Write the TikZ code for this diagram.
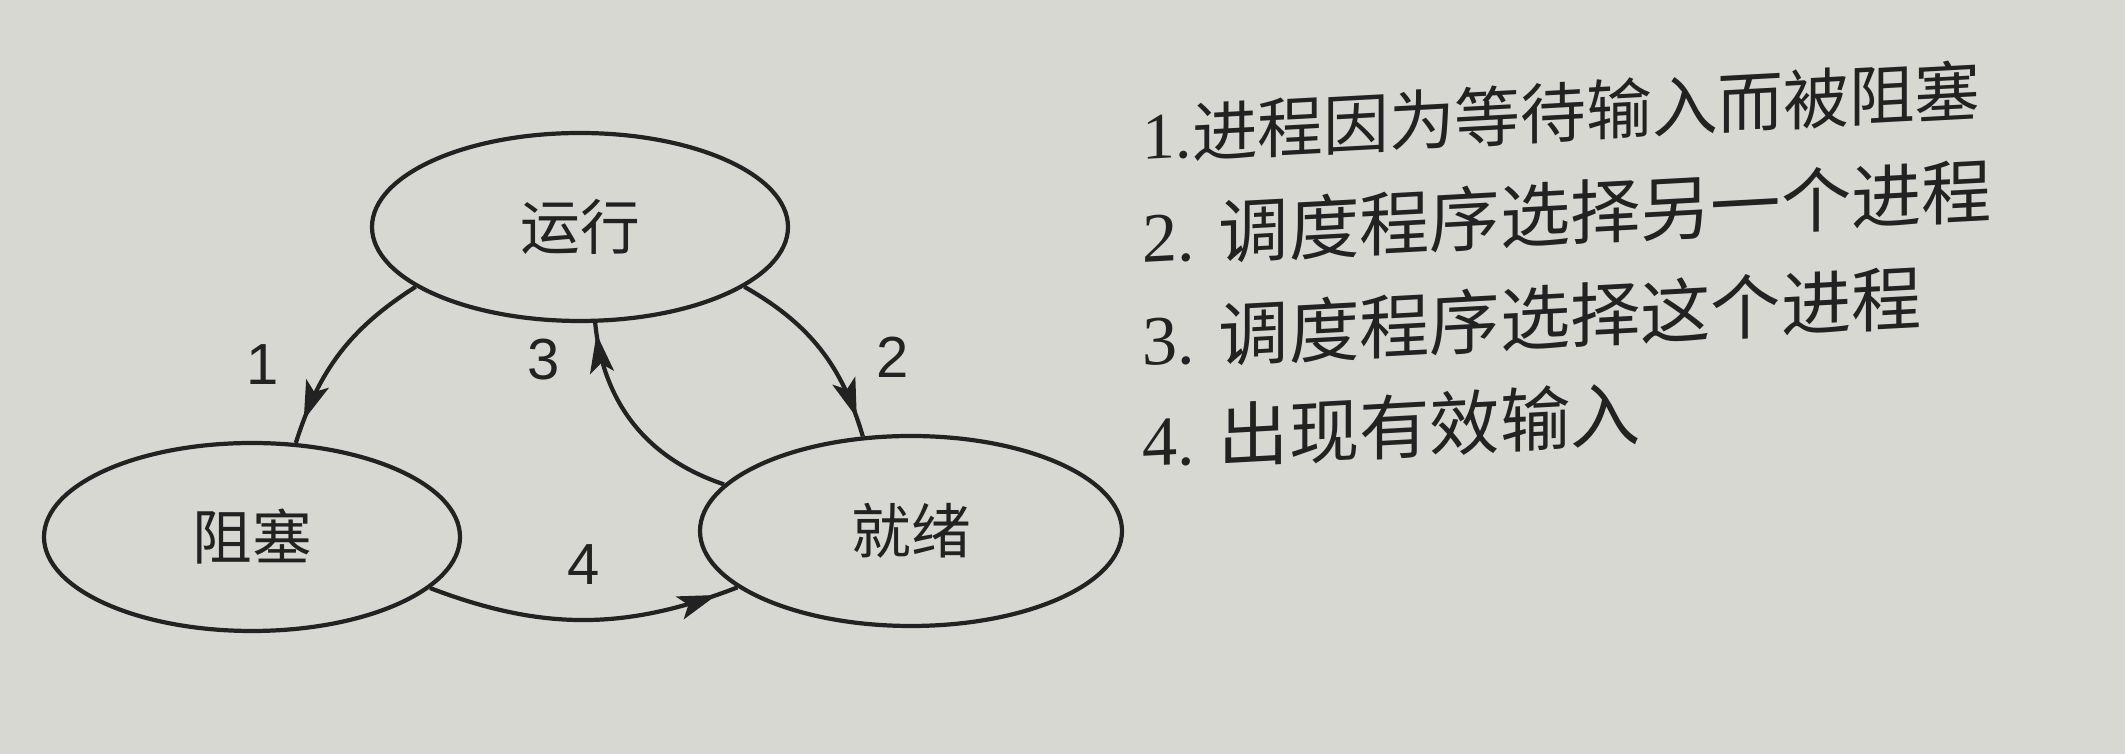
\documentclass[tikz,border=0pt]{standalone}
\usepackage{fontspec}
\setmainfont{Liberation Serif}
\newfontfamily\cjk{Noto Sans CJK SC}
\newfontfamily\labelfont{Liberation Sans}
\usetikzlibrary{shapes.geometric,arrows.meta,positioning,decorations.markings}
\definecolor{paper}{RGB}{216,216,211}
\definecolor{ink}{RGB}{34,34,34}

\tikzset{
  state/.style={ellipse, draw=ink, line width=1.2pt, minimum width=4.16cm, minimum height=1.88cm, inner sep=0pt, text=ink, font=\cjk\fontsize{17}{20}\selectfont},
  transition/.style={draw=ink, line width=1.2pt, postaction={decorate}, decoration={markings, mark=at position #1 with {\arrow{Stealth[length=3.9mm,width=2.4mm,inset=0.9mm]}}}},
  tlabel/.style={inner sep=0pt, text=ink, font=\labelfont\fontsize{16.5}{18}\selectfont},
  legend/.style={inner sep=0pt, text=ink, yslant=0.054}
}

\begin{document}
\begin{tikzpicture}[on grid]
\useasboundingbox[fill=paper] (0,0) rectangle (21.25,7.54);

\node[state] (running) at (5.80,5.27) {运行};
\node[state, below left = 3.10cm and 3.28cm of running] (blocked) {阻塞};
\node[state, below right = 3.04cm and 3.31cm of running, minimum width=4.22cm, minimum height=1.90cm] (ready) {就绪};

\path (running.200) edge[transition=0.88, bend right=20] node[tlabel, pos=0.58, left=5mm] {1} (blocked.65);
\path (running.-20) edge[transition=0.9, bend left=22] node[tlabel, pos=0.56, right=4.8mm] {2} (ready.117);
\path (ready.166) edge[transition=0.95, bend left=33] node[tlabel, pos=0.84, left=4mm] {3} (running.-81);
\path (blocked.-16) edge[transition=0.93, bend right=21] node[tlabel, above=3.3mm] {4} (ready.198);

\node[legend, anchor=base west, font=\fontsize{18.7}{20}\selectfont] (item1) at (11.42,5.94) {1.{\cjk 进程因为等待输入而被阻塞}};
\node[legend, below = 1.03cm of item1.base west, anchor=base west, font=\fontsize{20}{22}\selectfont] (item2) {2. {\cjk 调度程序选择另一个进程}};
\node[legend, below = 1.03cm of item2.base west, anchor=base west, font=\fontsize{20}{22}\selectfont] (item3) {3. {\cjk 调度程序选择这个进程}};
\node[legend, below = 1.01cm of item3.base west, anchor=base west, font=\fontsize{20}{22}\selectfont] (item4) {4. {\cjk 出现有效输入}};
\end{tikzpicture}
\end{document}
